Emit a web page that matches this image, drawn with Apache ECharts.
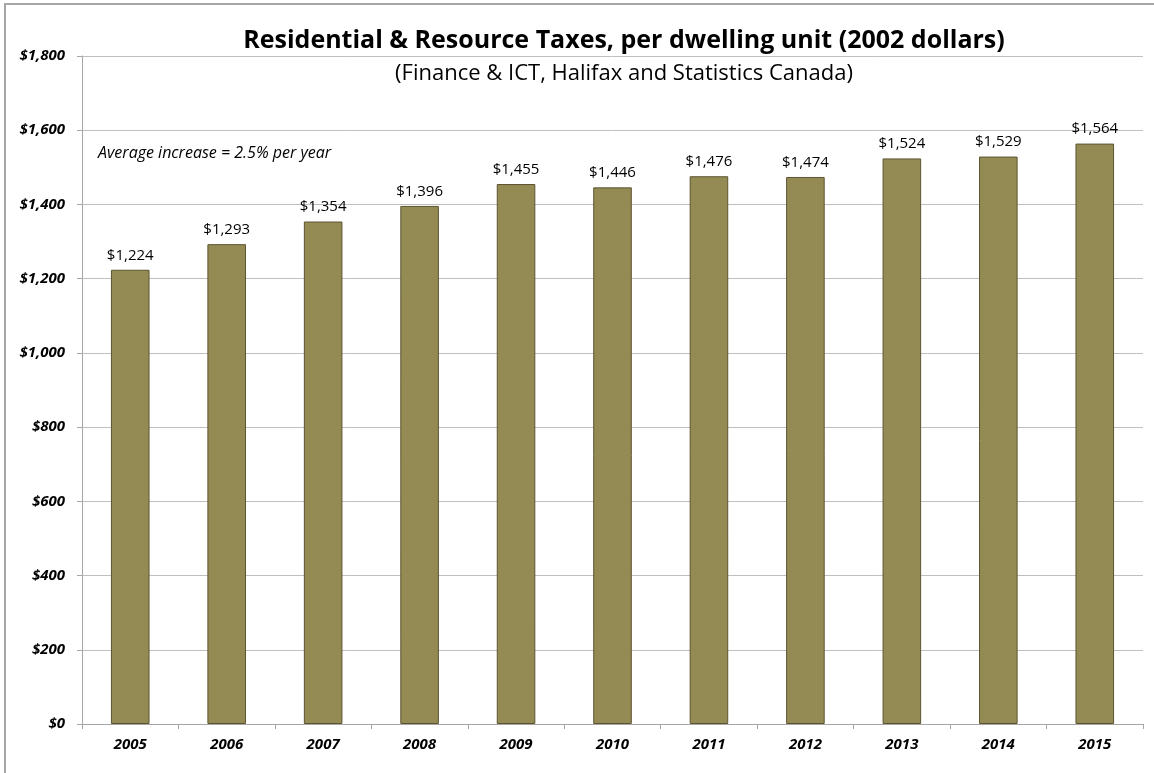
<!DOCTYPE html>
<html>
<head>
<meta charset="utf-8">
<script src="https://cdn.jsdelivr.net/npm/echarts@6/dist/echarts.min.js"></script>
<style>
  html, body { margin: 0; padding: 0; background: #ffffff; }
  #frame { position: absolute; left: 4px; top: 3px; width: 1160px; height: 780px;
           border-left: 2px solid #a6a6a6; border-top: 2px solid #a6a6a6; box-sizing: border-box; }
  #chart { width: 1154px; height: 773px; position: absolute; left: 0; top: 0; }
</style>
</head>
<body>
<div id="frame"></div>
<div id="chart"></div>
<script>
// Residential & resource taxes per dwelling unit, constant 2002 dollars
const years = ['2005', '2006', '2007', '2008', '2009', '2010', '2011', '2012', '2013', '2014', '2015'];
const taxPerDwelling = [1224, 1293, 1354, 1396, 1455, 1446, 1476, 1474, 1524, 1529, 1564];
const yTicks = [0, 200, 400, 600, 800, 1000, 1200, 1400, 1600, 1800];

const FONT = '"Open Sans", sans-serif';
const money = v => '$' + v.toLocaleString('en-US');

const chart = echarts.init(document.getElementById('chart'), null, { renderer: 'canvas' });
chart.setOption({
  animation: false,
  backgroundColor: 'transparent',
  title: [
    {
      text: 'Residential & Resource Taxes, per dwelling unit (2002 dollars)',
      left: 619, top: 23, textAlign: 'center',
      textStyle: { fontFamily: FONT, fontWeight: 'bold', fontSize: 25, color: '#000' }
    },
    {
      text: '(Finance & ICT, Halifax and Statistics Canada)',
      left: 619, top: 58, textAlign: 'center',
      textStyle: { fontFamily: FONT, fontWeight: 'normal', fontSize: 22, color: '#000' }
    },
    {
      text: 'Average increase = 2.5% per year',
      left: 93, top: 140,
      textStyle: { fontFamily: FONT, fontStyle: 'italic', fontWeight: 'normal', fontSize: 16, color: '#000' }
    }
  ],
  grid: { left: 82, right: 11, top: 56, bottom: 49, containLabel: false },
  xAxis: {
    type: 'category',
    data: years,
    axisLine: { lineStyle: { color: '#a6a6a6', width: 1 } },
    axisTick: { show: true, length: 5, lineStyle: { color: '#a6a6a6' } },
    axisLabel: { margin: 13, fontFamily: FONT, fontStyle: 'italic', fontWeight: 'bold', fontSize: 15, color: '#000' }
  },
  yAxis: {
    type: 'value',
    min: yTicks[0],
    max: yTicks[yTicks.length - 1],
    interval: yTicks[1] - yTicks[0],
    axisLine: { show: true, lineStyle: { color: '#a6a6a6', width: 1 } },
    axisTick: { show: true, length: 5, lineStyle: { color: '#a6a6a6' } },
    splitLine: { lineStyle: { color: '#bfbfbf', width: 1 } },
    axisLabel: { margin: 17, formatter: money, fontFamily: FONT, fontStyle: 'italic', fontWeight: 'bold', fontSize: 15, color: '#000' }
  },
  series: [{
    type: 'bar',
    data: taxPerDwelling,
    barWidth: '40%',
    itemStyle: { color: '#948a54', borderColor: '#5c5431', borderWidth: 1 },
    label: {
      show: true, position: 'top', distance: 7,
      formatter: p => money(p.value),
      fontFamily: FONT, fontSize: 15, color: '#000'
    }
  }]
});
</script>
</body>
</html>
